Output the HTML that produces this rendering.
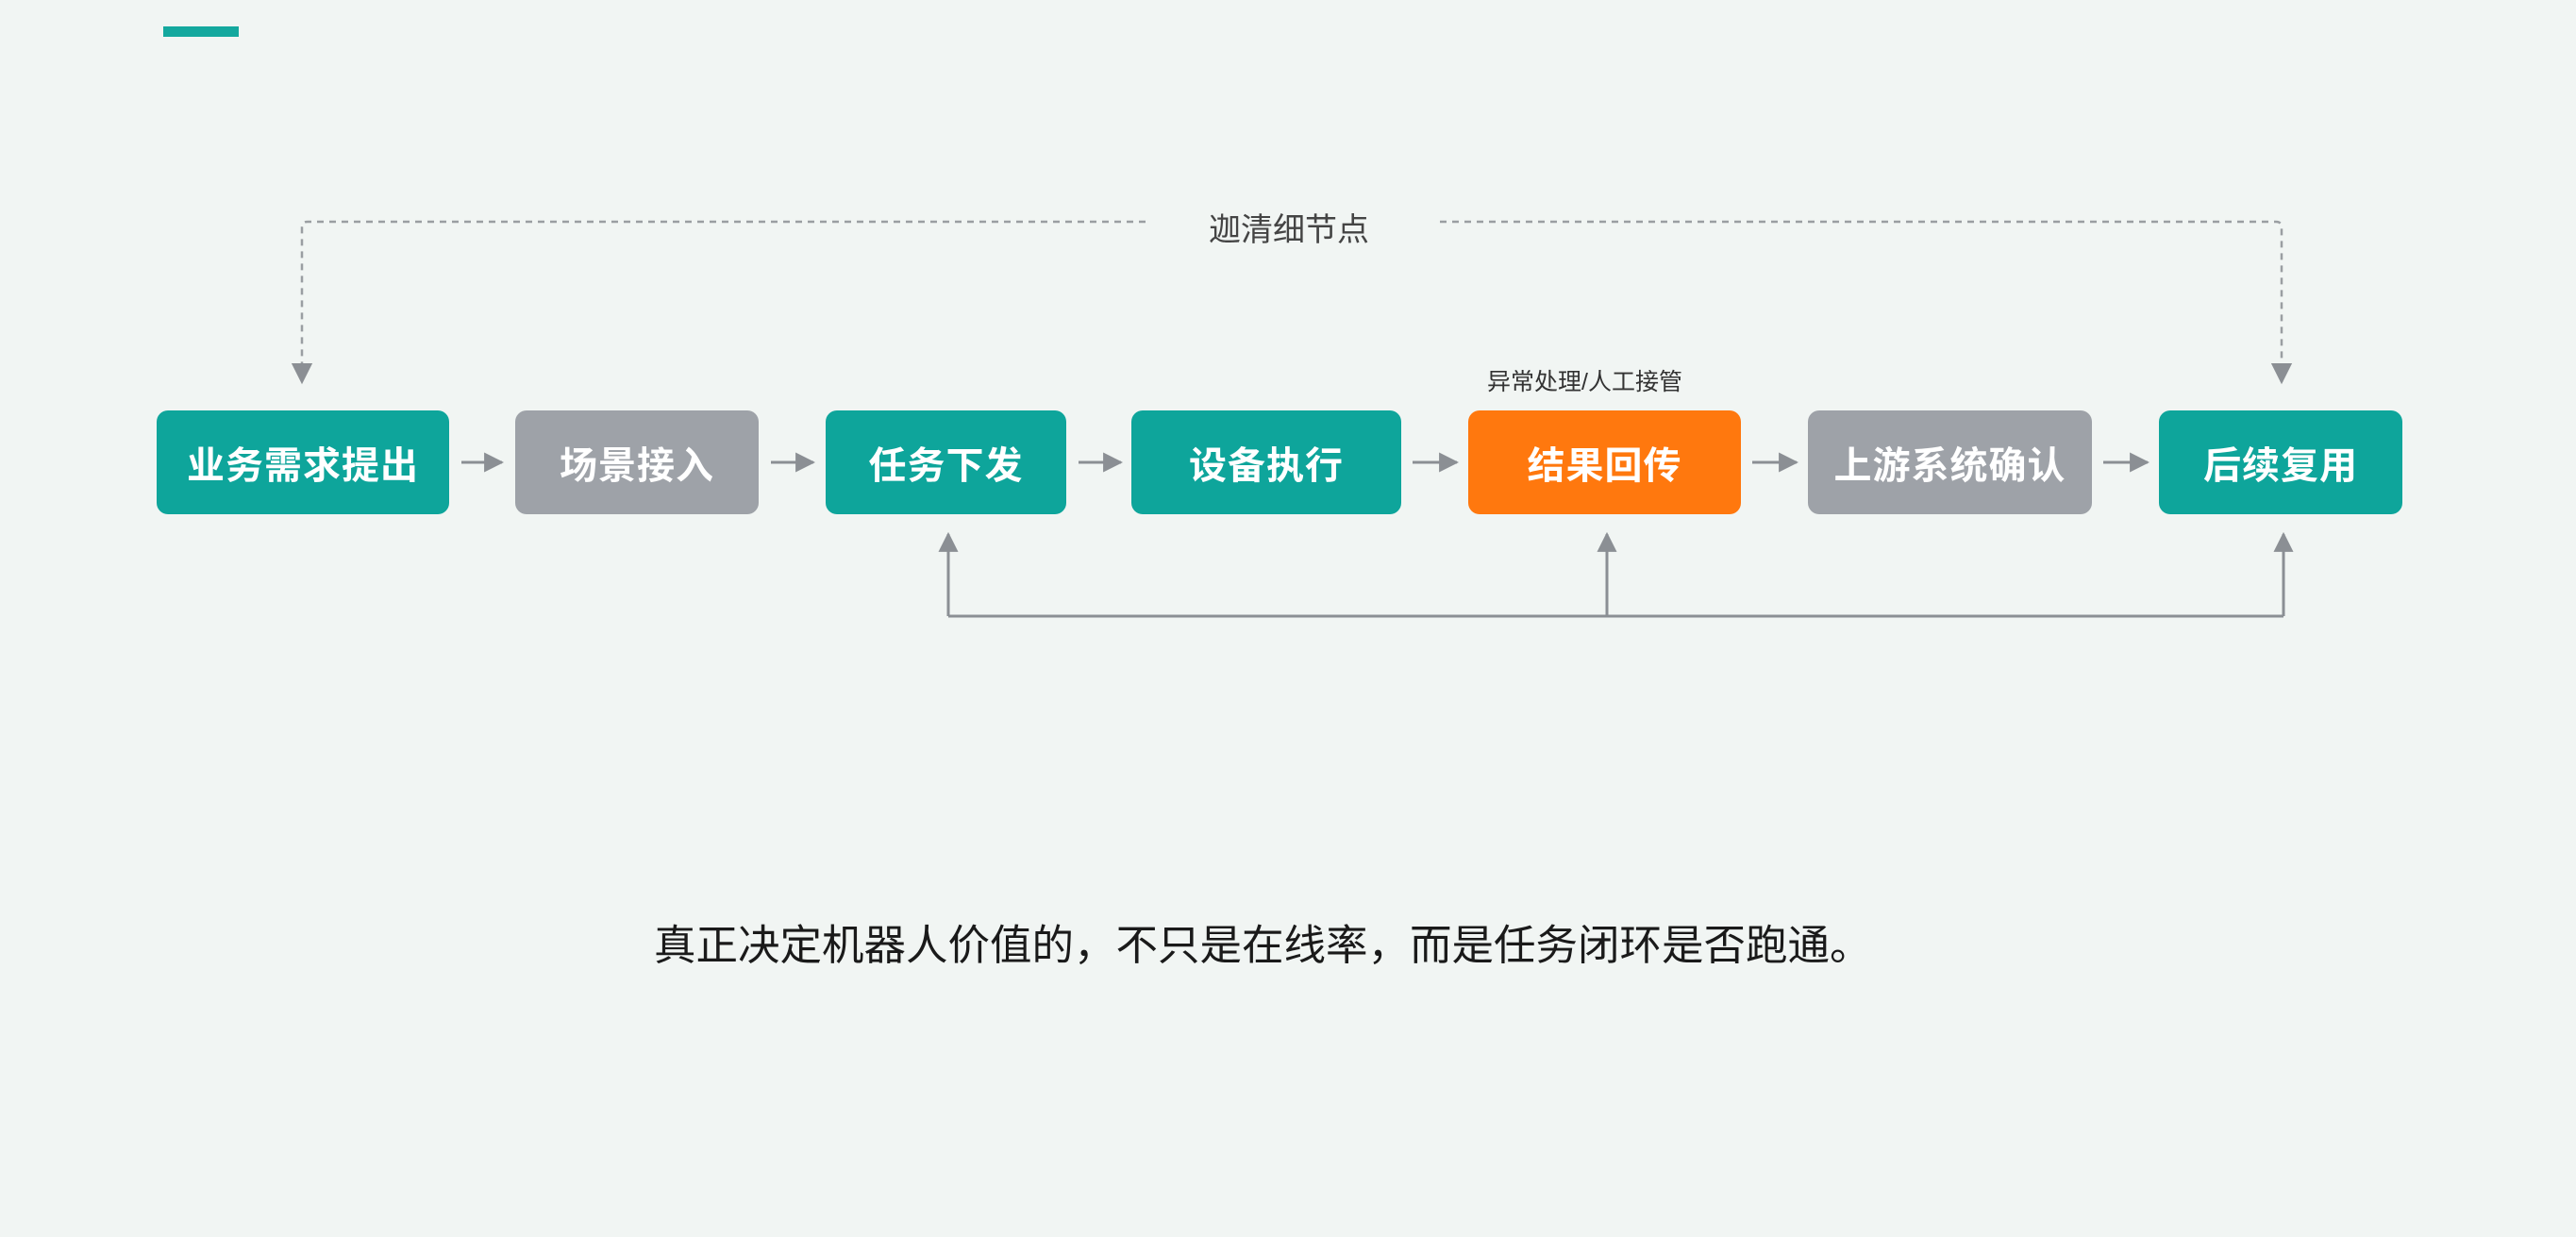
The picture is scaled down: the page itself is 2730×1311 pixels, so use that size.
<!DOCTYPE html>
<html><head><meta charset="utf-8"><style>
html,body{margin:0;padding:0}
body{width:2730px;height:1311px;position:relative;overflow:hidden;background:#f1f5f3;font-family:"Liberation Sans","Noto Sans CJK SC",sans-serif}
.b{position:absolute;top:435px;height:110px;border-radius:12px;color:#fff;font-weight:bold;font-size:40px;display:flex;align-items:center;justify-content:center;letter-spacing:1px}
.t{background:#0ea59b}.g{background:#9ea2a8}.o{background:#ff780e}
.lbl{position:absolute;color:#444;white-space:nowrap}
</style></head><body>
<div style="position:absolute;left:173px;top:28px;width:80px;height:11px;background:#14a89e"></div>
<svg width="2730" height="1311" style="position:absolute;left:0;top:0">
<defs>
<marker id="a" viewBox="0 0 10 10" refX="9" refY="5" markerWidth="7" markerHeight="7" orient="auto"><path d="M0,0L10,5L0,10z" fill="#8b8f94"/></marker>
<marker id="d" viewBox="0 0 10 10" refX="9" refY="5" markerWidth="9" markerHeight="9" orient="auto"><path d="M0,0L10,5L0,10z" fill="#8b8f94"/></marker>
</defs>
<g stroke="#9a9ea2" stroke-width="2.5" fill="none" stroke-dasharray="7,6">
<path d="M1214,235H326Q320,235 320,241V405" marker-end="url(#d)"/>
<path d="M1526,235H2412Q2418,235 2418,241V405" marker-end="url(#d)"/>
</g>
<g stroke="#8b8f94" stroke-width="3" fill="none">
<path d="M489,490H532" marker-end="url(#a)"/>
<path d="M817,490H862" marker-end="url(#a)"/>
<path d="M1143,490H1188" marker-end="url(#a)"/>
<path d="M1497,490H1544" marker-end="url(#a)"/>
<path d="M1857,490H1904" marker-end="url(#a)"/>
<path d="M2229,490H2276" marker-end="url(#a)"/>
<path d="M1005,653H2420"/>
<path d="M1005,653V566" marker-end="url(#a)"/>
<path d="M1703,653V566" marker-end="url(#a)"/>
<path d="M2420,653V566" marker-end="url(#a)"/>
</g>
</svg>
<div class="lbl" style="left:1281px;top:216px;font-size:34px">迦清细节点</div>
<div class="lbl" style="left:1576px;top:385px;font-size:25px;color:#333">异常处理/人工接管</div>
<div class="b t" style="left:166px;width:310px">业务需求提出</div>
<div class="b g" style="left:546px;width:258px">场景接入</div>
<div class="b t" style="left:875px;width:255px">任务下发</div>
<div class="b t" style="left:1199px;width:286px">设备执行</div>
<div class="b o" style="left:1556px;width:289px">结果回传</div>
<div class="b g" style="left:1916px;width:301px">上游系统确认</div>
<div class="b t" style="left:2288px;width:258px">后续复用</div>
<div class="lbl" style="left:693px;top:965px;font-size:44.5px;color:#1a1a1a">真正决定机器人价值的，不只是在线率，而是任务闭环是否跑通。</div>
</body></html>
